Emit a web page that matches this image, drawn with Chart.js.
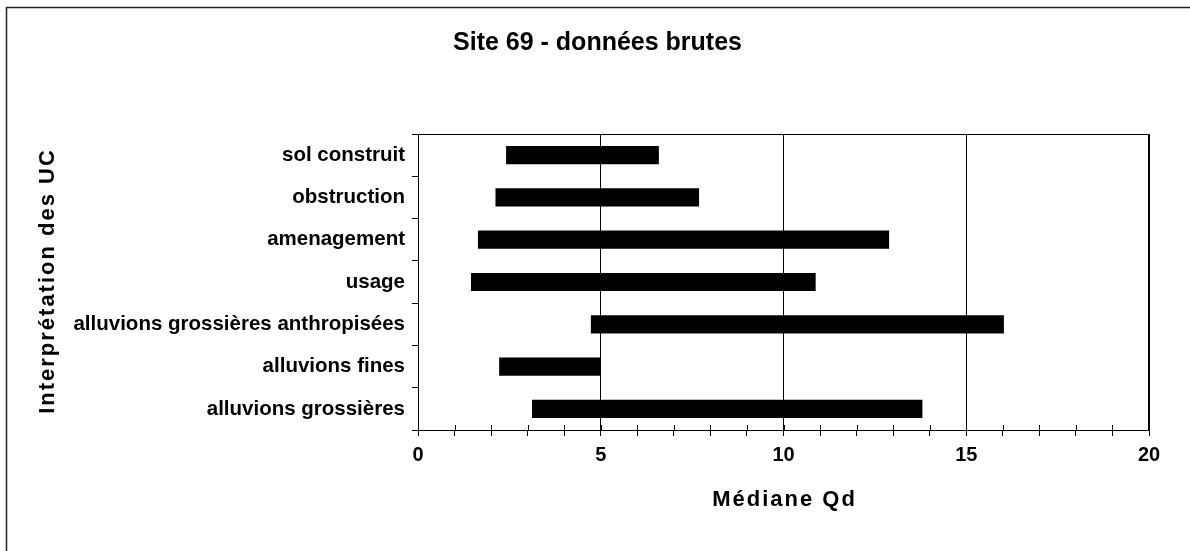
<!DOCTYPE html>
<html>
<head>
<meta charset="utf-8">
<title>Site 69 - données brutes</title>
<script src="https://cdn.jsdelivr.net/npm/chart.js@4.4.0/dist/chart.umd.min.js"></script>
<style>
  html, body { margin: 0; padding: 0; background: #fff; }
  canvas { display: block; }
</style>
</head>
<body>
<canvas id="chart" width="1190" height="551"></canvas>
<script>
// UC categories, top to bottom, with min / max of the median Qd
const categories = [
    'sol construit',
    'obstruction',
    'amenagement',
    'usage',
    'alluvions grossières anthropisées',
    'alluvions fines',
    'alluvions grossières'
];
const lowValues = [2.41, 2.12, 1.64, 1.45, 4.73, 2.22, 3.12];
const highValues = [6.59, 7.69, 12.89, 10.88, 16.03, 4.99, 13.80];
const xTickLabels = [0, 5, 10, 15, 20];
const xTitle = 'Médiane Qd';
const yTitle = 'Interprétation des UC';

const FONT = '"Liberation Sans", Arial, sans-serif';
Chart.defaults.color = '#000';
Chart.defaults.font.family = FONT;

// outer frame, plot box, inner half of the x tick marks and the spaced axis titles
const framePlugin = {
    id: 'frames',
    beforeDraw(chart) {
        const ctx = chart.ctx;
        ctx.save();
        ctx.fillStyle = '#fff';
        ctx.fillRect(0, 0, chart.width, chart.height);
        ctx.strokeStyle = '#222';
        ctx.lineWidth = 1.5;
        ctx.beginPath();
        ctx.moveTo(6.5, chart.height);
        ctx.lineTo(6.5, 7.5);
        ctx.lineTo(chart.width, 7.5);
        ctx.stroke();
        ctx.restore();
    },
    afterDraw(chart) {
        const ctx = chart.ctx;
        const a = chart.chartArea;
        const x = chart.scales.x;
        ctx.save();
        ctx.strokeStyle = '#000';
        ctx.lineWidth = 1;
        ctx.beginPath();
        ctx.moveTo(a.left, a.top + 0.5);
        ctx.lineTo(a.right - 0.5, a.top + 0.5);
        ctx.lineTo(a.right - 0.5, a.bottom);
        for (let v = x.min; v <= x.max; v++) {
            const px = Math.round(x.getPixelForValue(v)) + 0.5;
            ctx.moveTo(px, a.bottom);
            ctx.lineTo(px, a.bottom - 5);
        }
        ctx.stroke();

        ctx.fillStyle = '#000';
        ctx.font = 'bold 22px ' + FONT;
        ctx.letterSpacing = '2px';
        ctx.textAlign = 'center';
        ctx.textBaseline = 'middle';
        ctx.fillText(xTitle, (a.left + a.right) / 2 + 1, x.bottom - 51.5);
        ctx.translate(47.5, (a.top + a.bottom) / 2);
        ctx.rotate(-Math.PI / 2);
        ctx.fillText(yTitle, 1, 0);
        ctx.restore();
    }
};

new Chart(document.getElementById('chart').getContext('2d'), {
    type: 'bar',
    data: {
        labels: categories,
        datasets: [{
            data: categories.map((c, i) => [lowValues[i], highValues[i]]),
            backgroundColor: '#000',
            borderWidth: 0,
            barPercentage: 0.43,
            categoryPercentage: 1
        }]
    },
    options: {
        indexAxis: 'y',
        responsive: false,
        animation: false,
        devicePixelRatio: 1,
        layout: { padding: { top: 0, right: 41, bottom: 0, left: 46 } },
        scales: {
            x: {
                min: 0,
                max: 20,
                ticks: {
                    stepSize: 1,
                    padding: 7,
                    font: { size: 20, weight: 'bold' },
                    callback: v => xTickLabels.includes(v) ? v : ''
                },
                grid: {
                    color: c => (c.tick && c.tick.value % 5 === 0) ? '#000' : 'rgba(0,0,0,0)',
                    tickColor: '#000',
                    tickLength: 6,
                    lineWidth: 1
                },
                border: { display: true, color: '#000', width: 1 },
                title: { display: false },
                afterFit: s => { s.height = 121; }
            },
            y: {
                offset: true,
                ticks: {
                    padding: 7,
                    font: { size: 20.5, weight: 'bold' }
                },
                grid: {
                    offset: true,
                    drawOnChartArea: false,
                    color: '#000',
                    tickLength: 6
                },
                border: { display: true, color: '#000', width: 1 },
                title: { display: false },
                afterFit: s => { s.width = 372; }
            }
        },
        plugins: {
            legend: { display: false },
            tooltip: { enabled: false },
            title: {
                display: true,
                text: 'Site 69 - données brutes',
                font: { size: 25, weight: 'bold' },
                color: '#000',
                padding: { top: 28, bottom: 76 }
            }
        }
    },
    plugins: [framePlugin]
});
</script>
</body>
</html>
